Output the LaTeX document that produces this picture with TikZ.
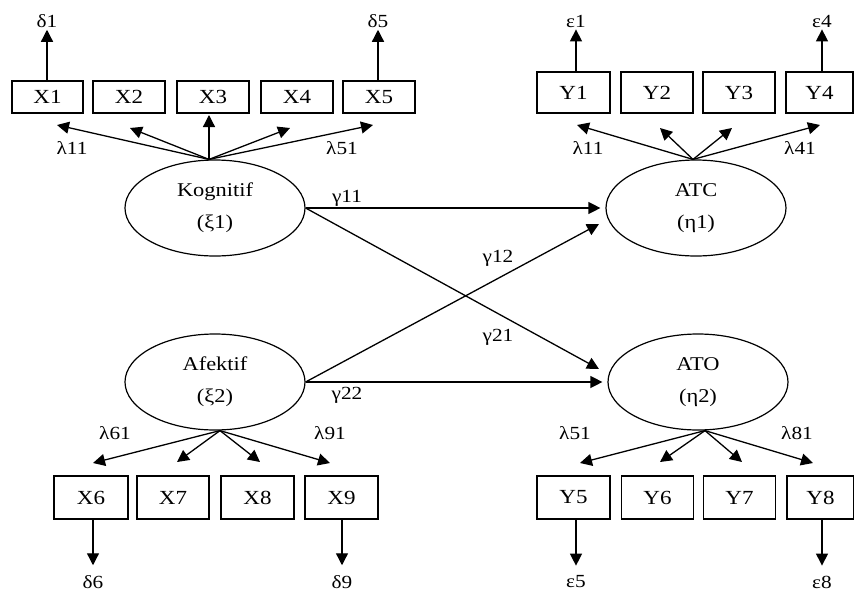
\documentclass[tikz,border=0pt]{standalone}
\usepackage{fontspec}
\setmainfont[FakeStretch=1.15]{Liberation Serif}
\usetikzlibrary{shapes.geometric,arrows.meta,calc}
\begin{document}
\begin{tikzpicture}[x=1pt,y=-1pt,
  obs/.style={draw, line width=1.2pt, rectangle, inner sep=0pt, font=\fontsize{20}{24}\selectfont},
  obsx/.style={obs, minimum height=32pt},
  obsy/.style={obs, minimum height=41pt},
  obsb/.style={obs, minimum height=43pt},
  lat/.style={draw, line width=1.2pt, ellipse, minimum width=180pt, minimum height=96pt, inner sep=0pt, align=center, font=\fontsize{19.5}{32}\selectfont},
  lab/.style={inner sep=1pt, font=\fontsize{18.5}{22}\selectfont},
  arr/.style={line width=1.3pt, -{Triangle[length=12pt,width=12pt]}}]
\useasboundingbox[fill=white] (0,0) rectangle (854,592);

% latent variables
\node[lat] (Kog) at (215,208) {Kognitif\\(ξ1)};
\node[lat] (ATC) at (696,208) {ATC\\(η1)};
\node[lat] (Afe) at (215,382) {Afektif\\(ξ2)};
\node[lat] (ATO) at (698,382) {ATO\\(η2)};

% top observed
\node[obsx, minimum width=71pt] (X1) at (47.5,97) {X1};
\node[obsx, minimum width=72pt] (X2) at (129,97) {X2};
\node[obsx, minimum width=72pt] (X3) at (213,97) {X3};
\node[obsx, minimum width=72pt] (X4) at (297,97) {X4};
\node[obsx, minimum width=72pt] (X5) at (379,97) {X5};
\node[obsy, minimum width=73pt] (Y1) at (573.5,92.5) {Y1};
\node[obsy, minimum width=72pt] (Y2) at (657,92.5) {Y2};
\node[obsy, minimum width=72pt] (Y3) at (739,92.5) {Y3};
\node[obsy, minimum width=67pt] (Y4) at (819.5,92.5) {Y4};

% bottom observed
\node[obsb, minimum width=74pt] (X6) at (91,497.5) {X6};
\node[obsb, minimum width=72pt] (X7) at (173,497.5) {X7};
\node[obsb, minimum width=73pt] (X8) at (257.5,497.5) {X8};
\node[obsb, minimum width=73pt] (X9) at (341.5,497.5) {X9};
\node[obsb, minimum width=73pt] (Y5) at (573.5,497.5) {Y5};
\node[obsb, minimum width=72pt] (Y6) at (657.5,497.5) {Y6};
\node[obsb, minimum width=72pt] (Y7) at (739.5,497.5) {Y7};
\node[obsb, minimum width=67pt] (Y8) at (820.5,497.5) {Y8};

% error labels
\node[lab] (d1) at (47,21) {δ1};
\node[lab] (d5) at (378,21) {δ5};
\node[lab] (e1) at (576,21) {ε1};
\node[lab] (e4) at (822,21) {ε4};
\node[lab] (d6) at (93,582) {δ6};
\node[lab] (d9) at (342,582) {δ9};
\node[lab] (e5) at (576,582) {ε5};
\node[lab] (e8) at (822,582) {ε8};

\draw[arr, shorten >=1pt] (d1.south |- X1.north) -- (d1.south);
\draw[arr, shorten >=1pt] (d5.south |- X5.north) -- (d5.south);
\draw[arr, shorten >=1pt] (e1.south |- Y1.north) -- (e1.south);
\draw[arr, shorten >=1pt] (e4.south |- Y4.north) -- (e4.south);
\draw[arr, shorten >=9pt] (d6.north |- X6.south) -- (d6.north);
\draw[arr, shorten >=9pt] (d9.north |- X9.south) -- (d9.north);
\draw[arr, shorten >=9pt] (e5.north |- Y5.south) -- (e5.north);
\draw[arr, shorten >=9pt] (e8.north |- Y8.south) -- (e8.north);

% loading origins and tips
\coordinate (kt) at ([xshift=-6pt]Kog.north);
\coordinate (at) at ([xshift=-3pt]ATC.north);
\coordinate (ab) at ([xshift=5pt]Afe.south);
\coordinate (ob) at ([xshift=7pt]ATO.south);

\coordinate (k1) at (57,125);
\coordinate (k2) at (130,128);
\coordinate (k3) at (208,115);
\coordinate (k4) at (290,128);
\coordinate (k5) at (373,125);
\coordinate (c1) at (577,125);
\coordinate (c2) at (660,128);
\coordinate (c3) at (732,128);
\coordinate (c4) at (820,125);
\coordinate (f1) at (93,463);
\coordinate (f2) at (177,462);
\coordinate (f3) at (260,462);
\coordinate (f4) at (330,463);
\coordinate (o1) at (580,463);
\coordinate (o2) at (660,462);
\coordinate (o3) at (742,462);
\coordinate (o4) at (813,463);

\foreach \t in {k1,k2,k4,k5} \draw[arr] (kt) -- (\t);
\draw[arr] (kt) -- (kt |- k3);
\foreach \t in {c1,c2,c3,c4} \draw[arr] (at) -- (\t);
\foreach \t in {f1,f2,f3,f4} \draw[arr] (ab) -- (\t);
\foreach \t in {o1,o2,o3,o4} \draw[arr] (ob) -- (\t);

% loading labels
\node[lab] (l11) at (72,148) {λ11};
\node[lab] (l51) at (342,148) {λ51};
\node[lab] (m11) at (588,148) {λ11};
\node[lab] (m41) at (800,148) {λ41};
\node[lab] (l61) at (115,433) {λ61};
\node[lab] (l91) at (330,433) {λ91};
\node[lab] (m51) at (575,433) {λ51};
\node[lab] (m81) at (797,433) {λ81};

% structural paths
\coordinate (t12) at (599,224);
\coordinate (t21) at (599,369);
\draw[arr, shorten >=5pt] (Kog.east) -- (ATC.west);
\draw[arr] (Kog.east) -- (t21);
\draw[arr] (Afe.east) -- (t12);
\draw[arr, shorten >=5pt] (Afe.east) -- (ATO.west);

\node[lab] (g11) at (347,198) {γ11};
\node[lab] (g12) at (498,258) {γ12};
\node[lab] (g21) at (498,337) {γ21};
\node[lab] (g22) at (347,395) {γ22};
\end{tikzpicture}
\end{document}
